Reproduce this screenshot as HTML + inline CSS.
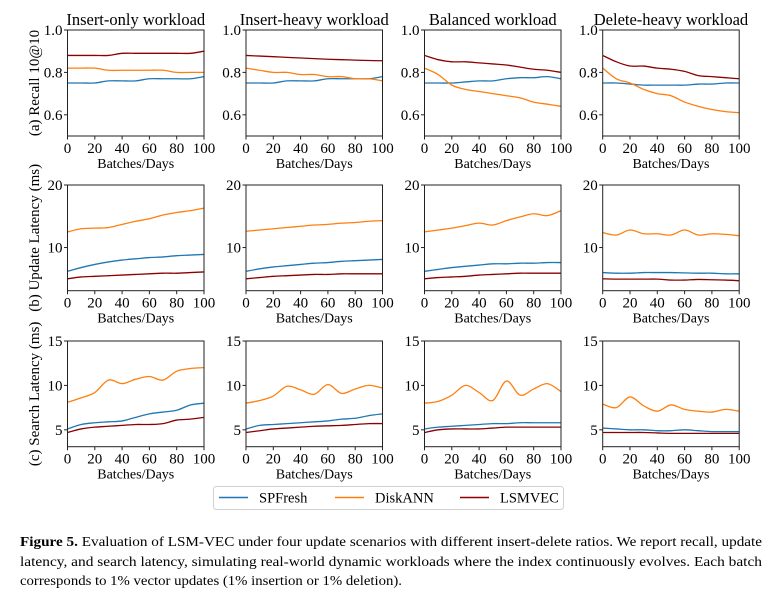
<!DOCTYPE html>
<html><head><meta charset="utf-8">
<style>
html,body{margin:0;padding:0;background:#fff;}
svg{display:block;font-family:"Liberation Serif",serif;}
svg text{font-family:"Liberation Serif",serif;}
</style></head>
<body>
<svg id="fig" width="780" height="589" viewBox="0 0 780 589" xmlns="http://www.w3.org/2000/svg" font-family="Liberation Serif, serif">
  <g id="plots" font-family="Liberation Serif, serif"></g>
  <g>
    <rect x="213.5" y="486.5" width="350" height="23" rx="3" fill="#fff" stroke="#d0d0d0" stroke-width="1"/>
    <g>
      <line x1="219" y1="497.5" x2="248" y2="497.5" stroke="#1f77b4" stroke-width="1.4"/>
      <text x="259" y="502.5" font-size="14.5">SPFresh</text>
    </g>
    <g>
      <line x1="335" y1="497.5" x2="364" y2="497.5" stroke="#ff7f0e" stroke-width="1.4"/>
      <text x="375" y="502.5" font-size="14.5">DiskANN</text>
    </g>
    <g>
      <line x1="460" y1="497.5" x2="489" y2="497.5" stroke="#8b0000" stroke-width="1.4"/>
      <text x="500" y="502.5" font-size="14.5">LSMVEC</text>
    </g>
  </g>
  <g font-size="14">
    <text x="20" y="546" textLength="742" lengthAdjust="spacingAndGlyphs"><tspan font-weight="bold">Figure 5.</tspan> Evaluation of LSM-VEC under four update scenarios with different insert-delete ratios. We report recall, update</text>
    <text x="20" y="566" textLength="742" lengthAdjust="spacingAndGlyphs">latency, and search latency, simulating real-world dynamic workloads where the index continuously evolves. Each batch</text>
    <text x="20" y="585" textLength="382" lengthAdjust="spacingAndGlyphs">corresponds to 1% vector updates (1% insertion or 1% deletion).</text>
  </g>
</svg>
<script>
const xValues = [0,10,20,30,40,50,60,70,80,90,100];
const workloads = ["Insert-only workload","Insert-heavy workload","Balanced workload","Delete-heavy workload"];
const seriesNames = ["SPFresh","DiskANN","LSMVEC"];
const rowLabels = ["(a) Recall 10@10","(b) Update Latency (ms)","(c) Search Latency (ms)"];
const xTicks = [0,20,40,60,80,100];
const recallTicks = ["0.6","0.8","1.0"];
const updateTicks = ["10","20"];
const searchTicks = ["5","10","15"];

// Recall
const recallSP = [
 [.75,.75,.75,.76,.76,.76,.77,.77,.77,.77,.78],
 [.75,.75,.75,.76,.76,.76,.77,.77,.77,.77,.78],
 [.75,.75,.75,.755,.76,.76,.77,.775,.775,.78,.77],
 [.75,.75,.745,.74,.74,.74,.74,.745,.745,.75,.75]];
const recallDisk = [
 [.82,.82,.82,.81,.81,.81,.81,.81,.80,.80,.80],
 [.82,.81,.80,.80,.79,.79,.78,.78,.77,.77,.76],
 [.82,.79,.74,.72,.71,.70,.69,.68,.66,.65,.64],
 [.82,.77,.75,.72,.70,.69,.66,.64,.625,.615,.61]];
const recallLSM = [
 [.88,.88,.88,.88,.89,.89,.89,.89,.89,.89,.90],
 [.88,.877,.874,.871,.868,.865,.862,.86,.858,.856,.855],
 [.88,.86,.85,.85,.845,.84,.835,.825,.815,.81,.80],
 [.88,.85,.83,.83,.82,.815,.805,.785,.78,.775,.77]];
// Update latency
const updateSP = [
 [6.2,6.8,7.3,7.7,8.0,8.2,8.4,8.5,8.7,8.8,8.9],
 [6.2,6.6,6.9,7.1,7.3,7.5,7.6,7.8,7.9,8.0,8.1],
 [6.2,6.5,6.8,7.0,7.2,7.4,7.4,7.5,7.5,7.6,7.6],
 [6.0,5.9,5.9,6.0,6.0,6.0,5.95,5.9,5.9,5.8,5.8]];
const updateDisk = [
 [12.5,13.0,13.1,13.2,13.7,14.2,14.6,15.2,15.6,15.9,16.3],
 [12.6,12.8,13.0,13.2,13.4,13.6,13.7,13.9,14.0,14.2,14.3],
 [12.5,12.8,13.1,13.5,13.9,13.6,14.3,14.9,15.4,15.1,15.9],
 [12.4,12.0,12.8,12.2,12.2,12.0,12.8,12.0,12.2,12.1,11.9]];
const updateLSM = [
 [5.0,5.3,5.4,5.5,5.6,5.7,5.8,5.9,5.9,6.0,6.1],
 [5.0,5.2,5.4,5.5,5.6,5.7,5.7,5.8,5.8,5.8,5.8],
 [5.0,5.2,5.3,5.4,5.6,5.7,5.8,5.9,5.9,5.9,5.9],
 [5.0,4.95,4.95,4.95,4.95,4.8,4.8,4.9,4.85,4.8,4.7]];
// Search latency
const searchSP = [
 [5.1,5.6,5.8,5.9,6.0,6.4,6.8,7.0,7.2,7.8,8.0],
 [5.1,5.5,5.6,5.7,5.8,5.9,6.0,6.2,6.3,6.6,6.8],
 [5.1,5.3,5.4,5.5,5.6,5.7,5.7,5.8,5.8,5.8,5.8],
 [5.2,5.1,5.0,5.0,4.9,4.9,5.0,4.9,4.8,4.8,4.8]];
const searchDisk = [
 [8.1,8.6,9.2,10.6,10.2,10.7,11.0,10.6,11.6,11.9,12.0],
 [8.0,8.3,8.8,9.9,9.5,9.0,10.1,9.1,9.6,10.0,9.7],
 [8.0,8.2,8.9,10.0,9.2,8.3,10.5,8.9,9.6,10.2,9.3],
 [7.9,7.5,8.7,7.7,7.1,7.8,7.3,7.1,7.0,7.3,7.1]];
const searchLSM = [
 [4.7,5.1,5.3,5.4,5.5,5.6,5.6,5.7,6.1,6.2,6.4],
 [4.7,4.9,5.1,5.2,5.3,5.4,5.45,5.5,5.6,5.7,5.7],
 [4.7,5.0,5.1,5.1,5.1,5.2,5.3,5.3,5.3,5.3,5.3],
 [4.7,4.7,4.7,4.7,4.65,4.6,4.6,4.6,4.6,4.6,4.6]];

const NS = "http://www.w3.org/2000/svg";
const colors = ["#1f77b4","#ff7f0e","#8b0000"];
const colLeft = [67.5,246,424.5,602.7];
const plotW = 136.5;
const rowTop = [30,185,341];
const rowBottom = [136,290.7,446.7];
const yDomain = [[0.5,1.0],[3.1,20],[3.1,15]];
const rowTicks = [recallTicks, updateTicks, searchTicks];
const rowData = [[recallSP,recallDisk,recallLSM],[updateSP,updateDisk,updateLSM],[searchSP,searchDisk,searchLSM]];
const rowKeys = ["recall","update-latency","search-latency"];
const root = document.getElementById("plots");
const FF = '"Liberation Serif", serif';

function mk(tag, attrs, parent){
  const e = document.createElementNS(NS, tag);
  for (const k in attrs) e.setAttribute(k, attrs[k]);
  if (tag === "text") e.setAttribute("font-family", FF);
  parent.appendChild(e);
  return e;
}
function smoothPath(pts){
  let d = "M" + pts[0][0].toFixed(2) + "," + pts[0][1].toFixed(2);
  for (let i = 0; i < pts.length - 1; i++){
    const p0 = pts[Math.max(0,i-1)], p1 = pts[i], p2 = pts[i+1], p3 = pts[Math.min(pts.length-1,i+2)];
    const c1x = p1[0] + (p2[0]-p0[0])/6, c1y = p1[1] + (p2[1]-p0[1])/6;
    const c2x = p2[0] - (p3[0]-p1[0])/6, c2y = p2[1] - (p3[1]-p1[1])/6;
    d += " C" + c1x.toFixed(2)+","+c1y.toFixed(2)+" "+c2x.toFixed(2)+","+c2y.toFixed(2)+" "+p2[0].toFixed(2)+","+p2[1].toFixed(2);
  }
  return d;
}

for (let r = 0; r < 3; r++){
  for (let c = 0; c < 4; c++){
    const L = colLeft[c], T = rowTop[r], B = rowBottom[r];
    const [y0, y1] = yDomain[r];
    const xScale = v => L + (v - 0) / 100 * plotW;
    const yScale = v => B - (v - y0) / (y1 - y0) * (B - T);
    const g = mk("g", {}, root);
    
    

    if (r === 0){
      const t = mk("text", {x: L + plotW/2, y: 25, "font-size": 16.5, "text-anchor": "middle"}, g);
      
      
      t.textContent = workloads[c];
    }
    if (c === 0){
      const cy = (T + B) / 2;
      const t = mk("text", {x: 0, y: 0, "font-size": 15, "text-anchor": "middle", transform: "translate(39," + cy + ") rotate(-90)"}, g);
      
      
      t.textContent = rowLabels[r];
    }
    for (let s = 0; s < 3; s++){
      const vals = rowData[r][s][c];
      const pts = vals.map((v, i) => [xScale(xValues[i]), yScale(v)]);
      const p = mk("path", {d: smoothPath(pts), fill: "none", stroke: colors[s], "stroke-width": 1.3}, g);
      
      
    }
    const fr = mk("rect", {x: L, y: T, width: plotW, height: B - T, fill: "none", stroke: "#222", "stroke-width": 1}, g);
    
    
    for (const xv of xTicks){
      const x = xScale(xv);
      mk("line", {x1: x, y1: B, x2: x, y2: B + 3.5, stroke: "#222", "stroke-width": 1}, g);
      const t = mk("text", {x: x, y: B + 17, "font-size": 15, "text-anchor": "middle"}, g);
      
      
      t.textContent = xv;
    }
    const xl = mk("text", {x: L + plotW/2, y: B + 32, "font-size": 14, "text-anchor": "middle"}, g);
    
    
    xl.textContent = "Batches/Days";
    for (const lab of rowTicks[r]){
      const y = yScale(parseFloat(lab));
      mk("line", {x1: L - 3.5, y1: y, x2: L, y2: y, stroke: "#222", "stroke-width": 1}, g);
      const t = mk("text", {x: L - 5, y: y + 5, "font-size": 15, "text-anchor": "end"}, g);
      
      
      t.textContent = lab;
    }
  }
}
</script>
</body></html>
